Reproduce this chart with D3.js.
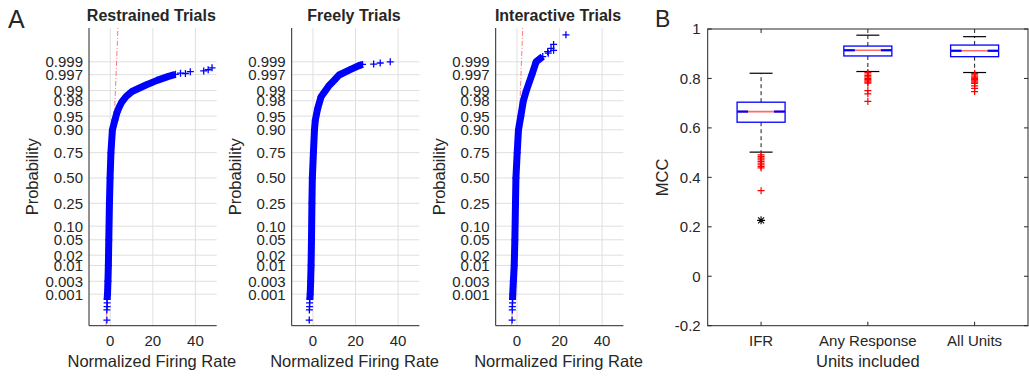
<!DOCTYPE html>
<html><head><meta charset="utf-8">
<script src="https://cdn.jsdelivr.net/npm/d3@7"></script>
<style>body{margin:0;background:#fff}svg{display:block}text{font-family:"Liberation Sans",Arial,sans-serif;fill:#262626}</style>
</head><body><svg id="c" width="1029" height="377"></svg>
<script>
// ---------- Panel A data ----------
const panelTitles = ["Restrained Trials", "Freely Trials", "Interactive Trials"];
const probTicks = [0.001, 0.003, 0.01, 0.02, 0.05, 0.10, 0.25, 0.50, 0.75, 0.90, 0.95, 0.98, 0.99, 0.997, 0.999];
const probTickLabels = ["0.001", "0.003", "0.01", "0.02", "0.05", "0.10", "0.25", "0.50", "0.75", "0.90", "0.95", "0.98", "0.99", "0.997", "0.999"];
const rateTicks = [0, 20, 40];
const rateDomain = [-10, 50];
const probDomain = [0.0000425, 0.999967];

// dense part of each sample (normalized rate, probability)
const restrainedRate = [-1.5, -1.3, -1.1, -0.9, -0.7, -0.4, -0.1, 0.3, 1.0, 2.2, 3.2, 4.3, 5.5, 7.5, 10.2, 16.5, 22, 27, 30.6];
const restrainedProb = [0.00062, 0.001, 0.003, 0.01, 0.05, 0.25, 0.5, 0.75, 0.90, 0.939, 0.960, 0.9713, 0.9788, 0.985, 0.9893, 0.9932, 0.9953, 0.9965, 0.9971];
const restrainedTailRate = [-1.6, -1.6, -1.5, -1.5, 33, 35.3, 37.6, 43.9, 46, 47.8];
const restrainedTailProb = [0.0000784, 0.000224, 0.000313, 0.00045, 0.99736, 0.99728, 0.99767, 0.99781, 0.99801, 0.99831];
const restrainedRefRate = [-2.0, 3.6];

const freelyRate = [-1.5, -1.3, -1.1, -0.9, -0.7, -0.5, -0.3, 0.2, 0.7, 1.1, 2.2, 3.8, 7.7, 10, 12.3, 17, 21.7, 23.3];
const freelyProb = [0.00062, 0.001, 0.003, 0.01, 0.05, 0.25, 0.5, 0.75, 0.90, 0.9382, 0.9678, 0.9846, 0.99324, 0.99534, 0.99693, 0.99795, 0.99861, 0.99874];
const freelyTailRate = [-1.75, -1.7, -1.6, -1.6, 28.5, 31.6, 36.3];
const freelyTailProb = [0.0000784, 0.000224, 0.000313, 0.00045, 0.99878, 0.99889, 0.999];
const freelyRefRate = [];

const interactiveRate = [-2.1, -2.0, -1.7, -1.3, -1.0, -0.7, -0.5, 0.1, 0.7, 1.8, 3.0, 4.4, 7.0, 9.0, 12.1];
const interactiveProb = [0.00062, 0.001, 0.003, 0.01, 0.05, 0.25, 0.5, 0.75, 0.90, 0.95, 0.98, 0.99, 0.997, 0.999, 0.99938];
const interactiveTailRate = [-2.3, -2.2, -2.2, -2.1, 14.7, 14.4, 17.2, 16.0, 17.2, 23.0];
const interactiveTailProb = [0.0000784, 0.000224, 0.000313, 0.00045, 0.99955, 0.99961, 0.99966, 0.99972, 0.99981, 0.99993];
const interactiveRefRate = [-2.5, 2.7];

// ---------- Panel B data ----------
const groups = ["IFR", "Any Response", "All Units"];
const q1 = [0.623, 0.891, 0.888];
const medians = [0.666, 0.914, 0.912];
const q3 = [0.704, 0.931, 0.935];
const whiskerLow = [0.502, 0.828, 0.824];
const whiskerHigh = [0.821, 0.975, 0.969];
const outliersIFR = [0.491, 0.484, 0.478, 0.471, 0.464, 0.457, 0.451, 0.444, 0.438, 0.346];
const outliersAny = [0.824, 0.818, 0.812, 0.806, 0.800, 0.795, 0.790, 0.785, 0.781, 0.751, 0.738, 0.707];
const outliersAll = [0.820, 0.815, 0.810, 0.805, 0.800, 0.795, 0.790, 0.785, 0.780, 0.770, 0.760, 0.747];
const starGroup = 0, starValue = 0.226;
const mccTicks = [-0.2, 0, 0.2, 0.4, 0.6, 0.8, 1];
const mccTickLabels = ["-0.2", "0", "0.2", "0.4", "0.6", "0.8", "1"];

// inverse standard normal CDF (Acklam) for the probability-paper scale
function probit(p) {
  const a=[-3.969683028665376e+01,2.209460984245205e+02,-2.759285104469687e+02,1.383577518672690e+02,-3.066479806614716e+01,2.506628277459239e+00];
  const b=[-5.447609879822406e+01,1.615858368580409e+02,-1.556989798598866e+02,6.680131188771972e+01,-1.328068155288572e+01];
  const c=[-7.784894002430293e-03,-3.223964580411365e-01,-2.400758277161838e+00,-2.549732539343734e+00,4.374664141464968e+00,2.938163982698783e+00];
  const d=[7.784695709041462e-03,3.224671290700398e-01,2.445134137142996e+00,3.754408661907416e+00];
  const pl=0.02425;
  if (p < pl) { const q=Math.sqrt(-2*Math.log(p)); return (((((c[0]*q+c[1])*q+c[2])*q+c[3])*q+c[4])*q+c[5])/((((d[0]*q+d[1])*q+d[2])*q+d[3])*q+1); }
  if (p <= 1-pl) { const q=p-0.5, r=q*q; return (((((a[0]*r+a[1])*r+a[2])*r+a[3])*r+a[4])*r+a[5])*q/(((((b[0]*r+b[1])*r+b[2])*r+b[3])*r+b[4])*r+1); }
  const q=Math.sqrt(-2*Math.log(1-p)); return -(((((c[0]*q+c[1])*q+c[2])*q+c[3])*q+c[4])*q+c[5])/((((d[0]*q+d[1])*q+d[2])*q+d[3])*q+1);
}

const svg = d3.select("#c");
svg.append("rect").attr("width",1029).attr("height",377).attr("fill","#fff");
const GRID = "#dfdfdf", AX = "#262626", BLUE = "#0000ff", RED = "#ff0000";

function plus(g, x, y, s, color, w) {
  g.append("path").attr("d", `M${x-s},${y}H${x+s}M${x},${y-s}V${y+s}`)
    .attr("stroke", color).attr("stroke-width", w).attr("fill","none");
}

// ---------- Panel A ----------
const panels = [
  {rate: restrainedRate, prob: restrainedProb, tr: restrainedTailRate, tp: restrainedTailProb, ref: restrainedRefRate},
  {rate: freelyRate, prob: freelyProb, tr: freelyTailRate, tp: freelyTailProb, ref: freelyRefRate},
  {rate: interactiveRate, prob: interactiveProb, tr: interactiveTailRate, tp: interactiveTailProb, ref: interactiveRefRate}
];
const lefts = [89, 291.7, 495.7], pw = 127.7, pTop = 28, pBot = 325.7;

svg.append("text").attr("x",8).attr("y",28).attr("font-size",25).text("A");

panels.forEach((pd, i) => {
  const L = lefts[i];
  const x = d3.scaleLinear().domain(rateDomain).range([L, L+pw]);
  const yz = d3.scaleLinear().domain([probit(probDomain[0]), probit(probDomain[1])]).range([pBot, pTop]);
  const y = p => yz(probit(p));
  const g = svg.append("g");
  rateTicks.forEach(t => g.append("line").attr("x1",x(t)).attr("x2",x(t)).attr("y1",pTop).attr("y2",pBot).attr("stroke",GRID).attr("stroke-width",1));
  probTicks.forEach(t => g.append("line").attr("x1",L).attr("x2",L+pw).attr("y1",y(t)).attr("y2",y(t)).attr("stroke",GRID).attr("stroke-width",1));
  if (pd.ref.length === 2) {
    g.append("line").attr("x1",x(pd.ref[0])).attr("y1",y(probDomain[0])).attr("x2",x(pd.ref[1])).attr("y2",y(probDomain[1]))
      .attr("stroke","#ff6a6a").attr("stroke-width",0.9).attr("stroke-dasharray","5,2,1,2");
  }
  const line = d3.line().x(k => x(pd.rate[k])).y(k => y(pd.prob[k]));
  g.append("path").attr("d", line(d3.range(pd.rate.length))).attr("fill","none")
    .attr("stroke",BLUE).attr("stroke-width",7).attr("stroke-linejoin","round");
  pd.rate.forEach((r,k) => plus(g, x(r), y(pd.prob[k]), 3.5, BLUE, 1.3));
  pd.tr.forEach((r,k) => plus(g, x(r), y(pd.tp[k]), 3.5, BLUE, 1.3));
  g.append("line").attr("x1",L).attr("x2",L).attr("y1",pTop).attr("y2",pBot).attr("stroke",AX).attr("stroke-width",1);
  g.append("line").attr("x1",L).attr("x2",L+pw).attr("y1",pBot).attr("y2",pBot).attr("stroke",AX).attr("stroke-width",1);
  probTicks.forEach((t,k) => g.append("text").attr("x",L-6).attr("y",y(t)).attr("dy","0.36em").attr("text-anchor","end").attr("font-size",15).text(probTickLabels[k]));
  rateTicks.forEach(t => g.append("text").attr("x",x(t)).attr("y",pBot+20.5).attr("text-anchor","middle").attr("font-size",15).text(t));
  g.append("text").attr("x",L+pw/2-1.5).attr("y",21).attr("text-anchor","middle").attr("font-size",16).attr("font-weight","bold").text(panelTitles[i]);
  g.append("text").attr("x",L+pw/2-1).attr("y",367).attr("text-anchor","middle").attr("font-size",16.5).text("Normalized Firing Rate");
  g.append("text").attr("transform",`translate(${L-51},${(pTop+pBot)/2}) rotate(-90)`).attr("text-anchor","middle").attr("font-size",16.5).text("Probability");
});

// ---------- Panel B ----------
const bL = 707.7, bR = 1028, bT = 29, bB = 325.7;
const xb = d3.scaleLinear().domain([0.5, 3.5]).range([bL, bR]);
const yb = d3.scaleLinear().domain([-0.2, 1]).range([bB, bT]);
const gb = svg.append("g");
svg.append("text").attr("x",655).attr("y",27).attr("font-size",23).text("B");

const boxW = 48, capW = 23, notchW = 11;
const outlierSets = [outliersIFR, outliersAny, outliersAll];
groups.forEach((gname, i) => {
  const cx = xb(i+1);
  gb.append("line").attr("x1",cx).attr("x2",cx).attr("y1",yb(q3[i])).attr("y2",yb(whiskerHigh[i])).attr("stroke","#000").attr("stroke-width",0.9).attr("stroke-dasharray","4,3");
  gb.append("line").attr("x1",cx).attr("x2",cx).attr("y1",yb(q1[i])).attr("y2",yb(whiskerLow[i])).attr("stroke","#000").attr("stroke-width",0.9).attr("stroke-dasharray","4,3");
  gb.append("line").attr("x1",cx-capW/2).attr("x2",cx+capW/2).attr("y1",yb(whiskerHigh[i])).attr("y2",yb(whiskerHigh[i])).attr("stroke","#000").attr("stroke-width",1.2);
  gb.append("line").attr("x1",cx-capW/2).attr("x2",cx+capW/2).attr("y1",yb(whiskerLow[i])).attr("y2",yb(whiskerLow[i])).attr("stroke","#000").attr("stroke-width",1.2);
  gb.append("rect").attr("x",cx-boxW/2).attr("y",yb(q3[i])).attr("width",boxW).attr("height",yb(q1[i])-yb(q3[i]))
    .attr("fill","none").attr("stroke",BLUE).attr("stroke-width",1.3);
  gb.append("line").attr("x1",cx-boxW/2).attr("x2",cx+boxW/2).attr("y1",yb(medians[i])).attr("y2",yb(medians[i])).attr("stroke","#ff6a6a").attr("stroke-width",1.6);
  [[cx-boxW/2, cx-boxW/2+notchW],[cx+boxW/2-notchW, cx+boxW/2]].forEach(s =>
    gb.append("line").attr("x1",s[0]).attr("x2",s[1]).attr("y1",yb(medians[i])).attr("y2",yb(medians[i])).attr("stroke",BLUE).attr("stroke-width",2.2));
  outlierSets[i].forEach(v => plus(gb, cx, yb(v), 3.5, RED, 1.2));
});
{
  const sx = xb(starGroup+1), sy = yb(starValue), s = 4;
  gb.append("path").attr("d",`M${sx-s},${sy}H${sx+s}M${sx},${sy-s}V${sy+s}M${sx-s*0.75},${sy-s*0.75}L${sx+s*0.75},${sy+s*0.75}M${sx-s*0.75},${sy+s*0.75}L${sx+s*0.75},${sy-s*0.75}`)
    .attr("stroke","#000").attr("stroke-width",1.1).attr("fill","none");
}
gb.append("rect").attr("x",bL).attr("y",bT).attr("width",bR-bL).attr("height",bB-bT).attr("fill","none").attr("stroke",AX).attr("stroke-width",1);
mccTicks.forEach((t,k) => {
  gb.append("line").attr("x1",bL).attr("x2",bL+4).attr("y1",yb(t)).attr("y2",yb(t)).attr("stroke",AX);
  gb.append("line").attr("x1",bR-4).attr("x2",bR).attr("y1",yb(t)).attr("y2",yb(t)).attr("stroke",AX);
  gb.append("text").attr("x",bL-7).attr("y",yb(t)).attr("dy","0.36em").attr("text-anchor","end").attr("font-size",15).text(mccTickLabels[k]);
});
groups.forEach((gname,i) => {
  const cx = xb(i+1);
  gb.append("line").attr("x1",cx).attr("x2",cx).attr("y1",bB).attr("y2",bB-4).attr("stroke",AX);
  gb.append("line").attr("x1",cx).attr("x2",cx).attr("y1",bT).attr("y2",bT+4).attr("stroke",AX);
  gb.append("text").attr("x",cx).attr("y",bB+20.5).attr("text-anchor","middle").attr("font-size",15).text(gname);
});
gb.append("text").attr("x",(bL+bR)/2).attr("y",366.5).attr("text-anchor","middle").attr("font-size",16.5).text("Units included");
gb.append("text").attr("transform",`translate(668,${(bT+bB)/2}) rotate(-90)`).attr("text-anchor","middle").attr("font-size",16.5).text("MCC");
</script></body></html>
